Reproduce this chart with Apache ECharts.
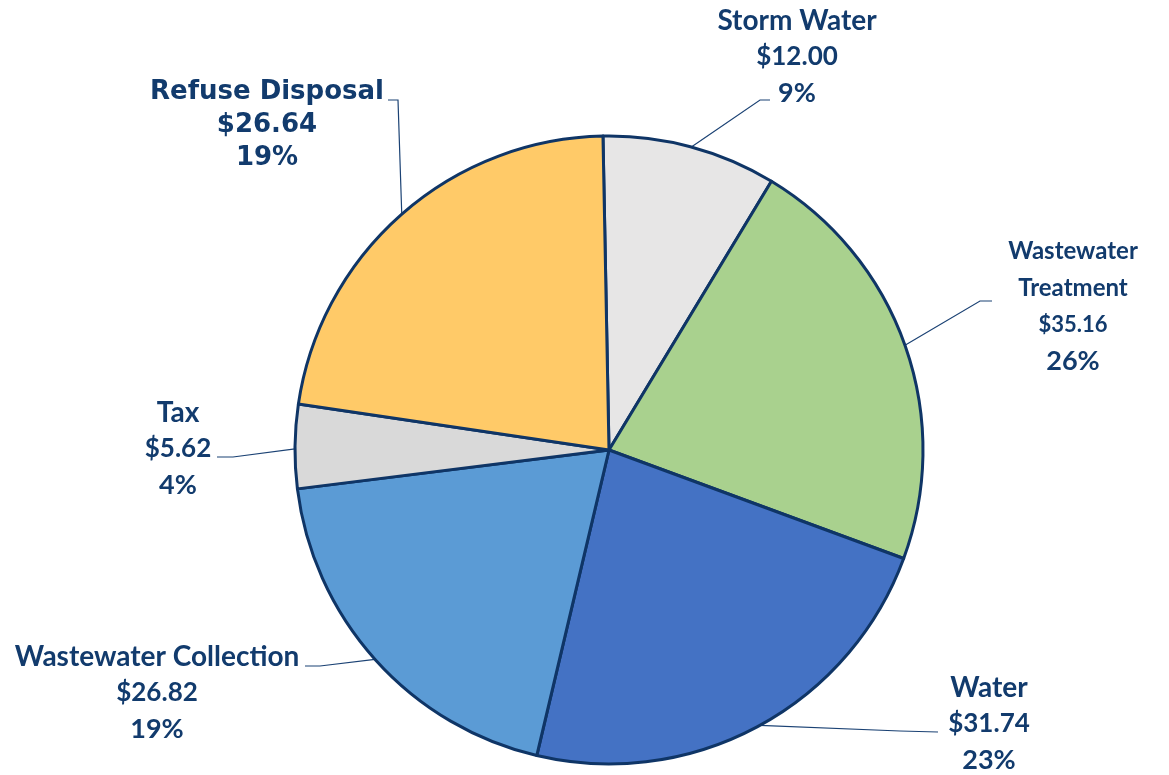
<!DOCTYPE html>
<html>
<head>
<meta charset="utf-8">
<script src="https://cdn.jsdelivr.net/npm/echarts@6/dist/echarts.min.js"></script>
<style>
html,body{margin:0;padding:0;background:#fff;}
#chart{width:1169px;height:775px;}
</style>
</head>
<body>
<div id="chart"></div>
<script>
// ---- data ----
const categories = ['Storm Water', 'Wastewater Treatment', 'Water', 'Wastewater Collection', 'Tax', 'Refuse Disposal'];
const labelNames = ['Storm Water', 'Wastewater\nTreatment', 'Water', 'Wastewater Collection', 'Tax', 'Refuse Disposal'];
const amounts = [12.00, 35.16, 31.74, 26.82, 5.62, 26.64];
const percentLabels = ['9%', '26%', '23%', '19%', '4%', '19%'];
// share of the circle each slice occupies in the drawn pie (percent)
const sliceShares = [8.96, 21.96, 23.08, 19.33, 4.31, 22.36];
const colors = ['#E7E6E6', '#A9D18E', '#4472C4', '#5B9BD5', '#D9D9D9', '#FFCA68'];

// ---- layout / style ----
const CX = 609, CY = 450, R = 314;
const TEXT = '#123B6D';
const anchorAngles = [15.2, 70.5, 151.3, 228.2, 270.2, 318.7];
const labelPos = [
  {x: 797, y: 57, bend: [760, 100], end: [770, 100]},
  {x: 1073, y: 306, bend: [980, 301], end: [992, 301]},
  {x: 989, y: 724, bend: [900, 731], end: [938, 732]},
  {x: 157, y: 693, bend: [320, 666], end: [305, 666]},
  {x: 178, y: 449, bend: [233, 457], end: [217, 457]},
  {x: 267, y: 125, bend: [398, 100], end: [388, 100]}
];
// rich-style keys per label: [name, value, percent]
const styleKeys = [
  ['n', 'v', 'p'],
  ['tn', 'tv', 'p'],
  ['n', 'v', 'p'],
  ['n', 'v', 'p'],
  ['n', 'v', 'p'],
  ['h', 'h', 'h']
];

const chart = echarts.init(document.getElementById('chart'), null, {renderer: 'canvas'});

const data = categories.map((c, i) => ({
  name: c,
  value: sliceShares[i],
  itemStyle: {color: colors[i]}
}));

function st(size, family, weight, lh) {
  return {fontFamily: family, fontWeight: weight, fontSize: size, color: TEXT, lineHeight: lh, align: 'center'};
}

chart.setOption({
  animation: false,
  backgroundColor: '#ffffff',
  series: [{
    type: 'pie',
    center: [CX, CY],
    radius: R,
    startAngle: 91.1,
    clockwise: true,
    data: data,
    itemStyle: {borderColor: '#0F3566', borderWidth: 3},
    label: {
      show: true,
      position: 'outside',
      formatter: function (p) {
        const i = p.dataIndex;
        const k = styleKeys[i];
        return '{' + k[0] + '|' + labelNames[i] + '}\n{' + k[1] + '|$' + amounts[i].toFixed(2) + '}\n{' + k[2] + '|' + percentLabels[i] + '}';
      },
      rich: {
        n: st(28, 'Lato', 'bold', 36),
        v: st(26, 'Lato', 'bold', 36),
        p: st(27, 'Lato', 'bold', 36),
        tn: st(24, 'Lato', 'bold', 37),
        tv: st(22, 'Lato', 'bold', 37),
        h: st(26, 'DejaVu Sans', 'bold', 33)
      }
    },
    labelLine: {show: true, lineStyle: {color: '#1B4274', width: 1.2}},
    labelLayout: function (params) {
      const i = params.dataIndex;
      const L = labelPos[i];
      const a = anchorAngles[i] * Math.PI / 180;
      const ax = CX + R * Math.sin(a), ay = CY - R * Math.cos(a);
      return {
        x: L.x, y: L.y, align: 'center', verticalAlign: 'middle',
        labelLinePoints: [[ax, ay], L.bend, L.end]
      };
    }
  }]
});
</script>
</body>
</html>
